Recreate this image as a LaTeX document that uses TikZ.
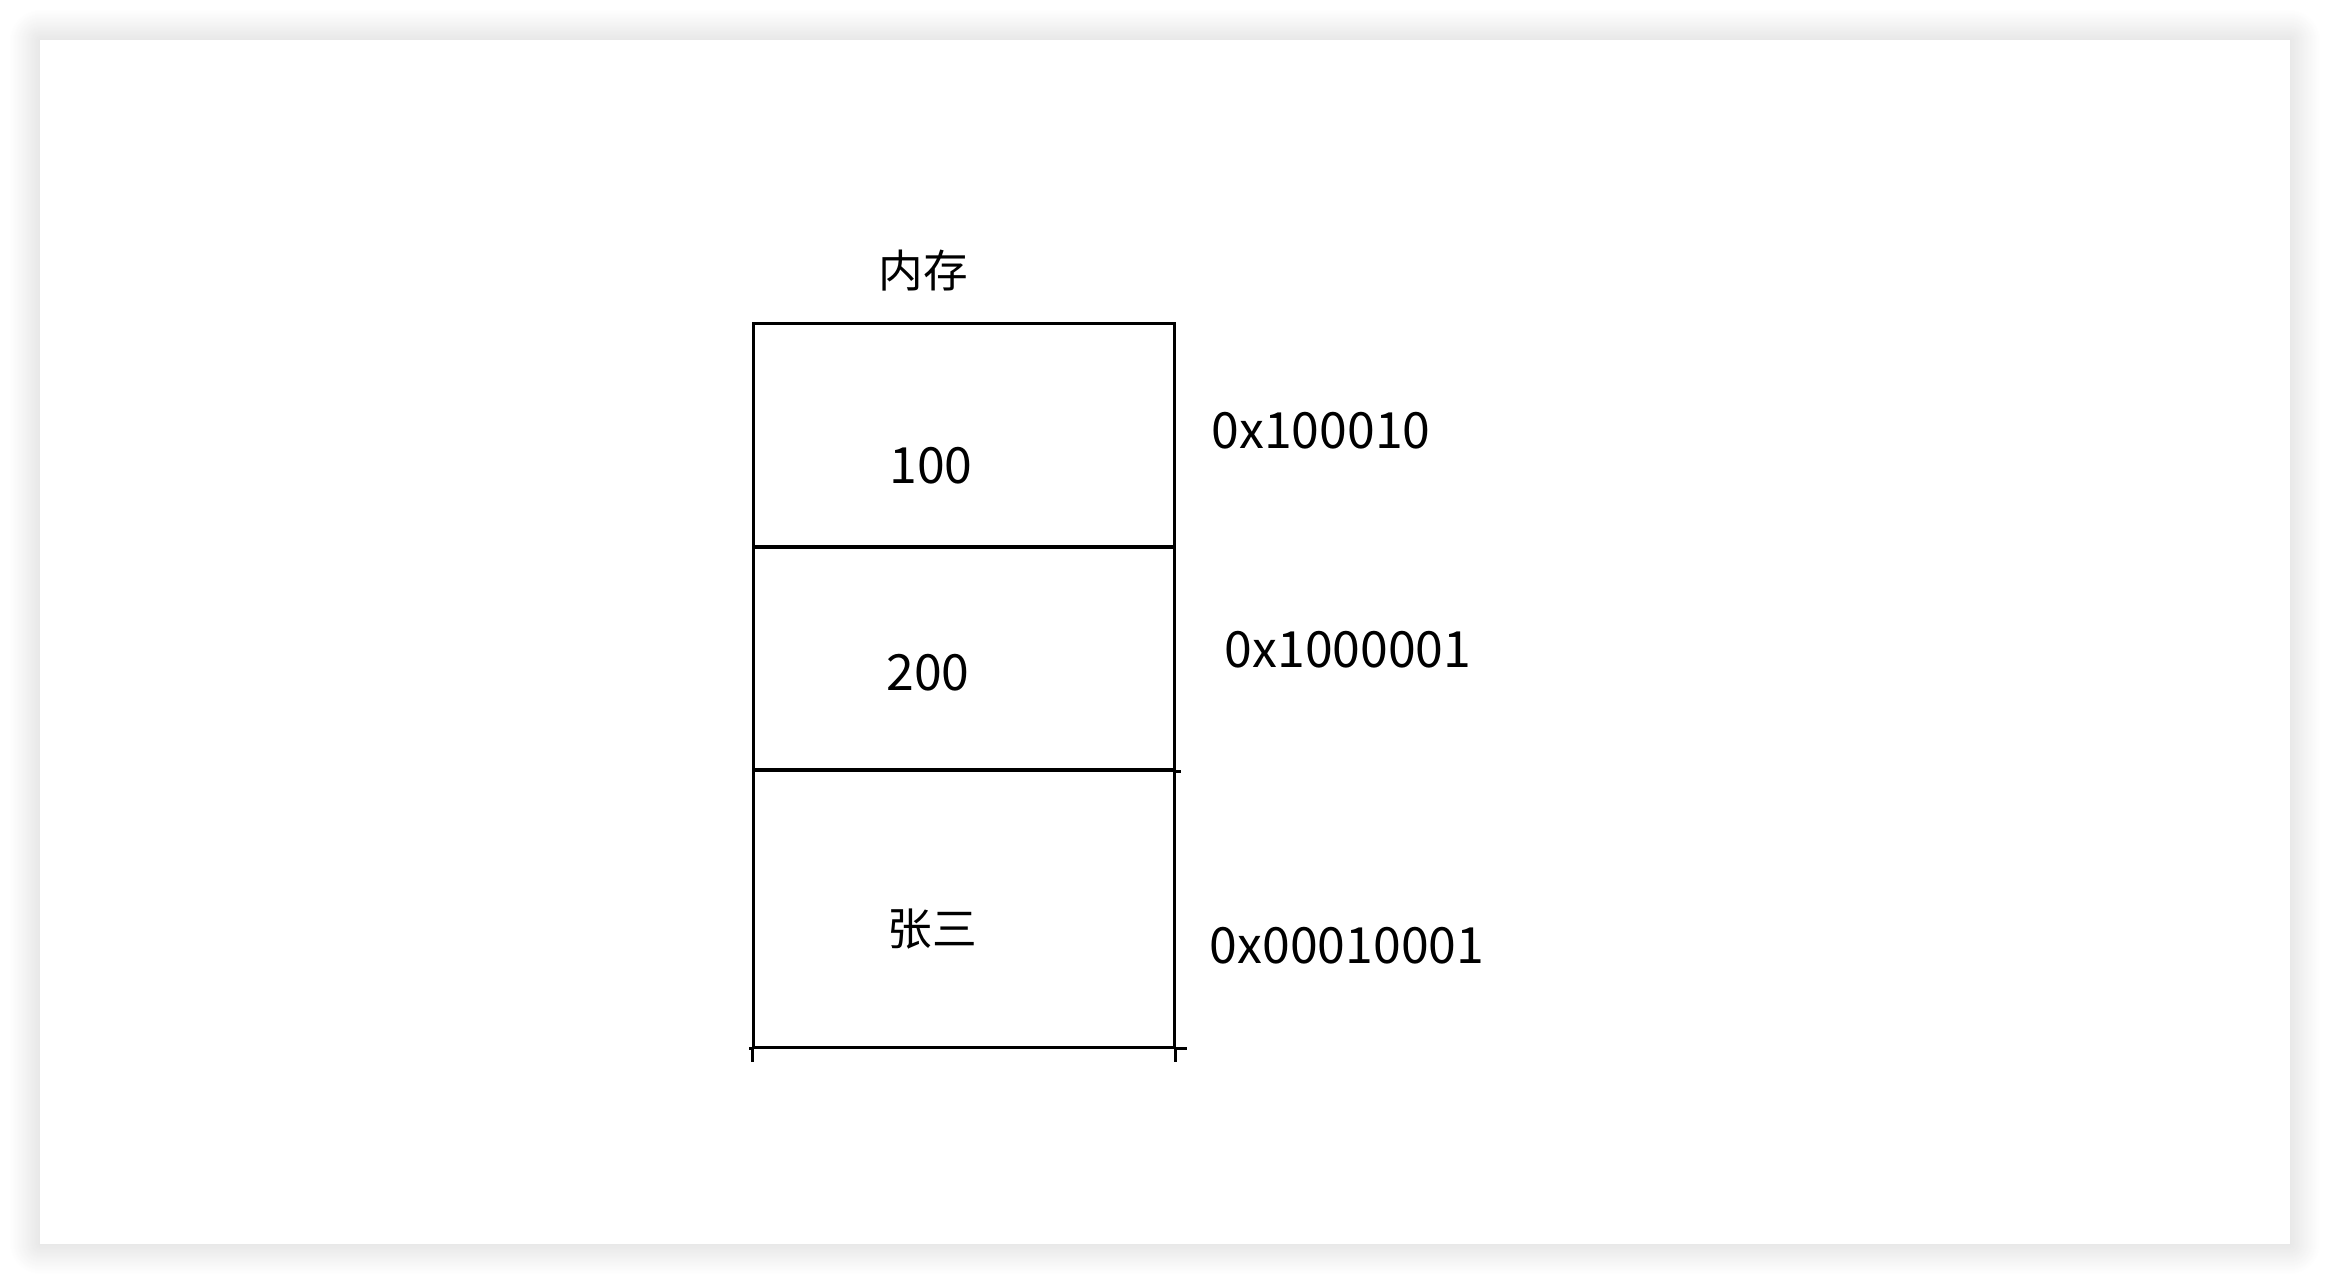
\documentclass[tikz,border=0pt]{standalone}
\usepackage{fontspec}
\setmainfont{Noto Sans CJK SC}
\definecolor{cardShadow}{RGB}{60,60,60}
\tikzset{
  cellbox/.style={draw=black, line width=0.03cm, minimum width=4.2cm, inner sep=0pt},
  hanzi/.style={font=\fontsize{12.7}{15}\selectfont, anchor=base},
  numtext/.style={font=\fontsize{14.2}{17}\selectfont, anchor=base},
}

\begin{document}
\begin{tikzpicture}[x=0.01cm, y=-0.01cm]
  \useasboundingbox (0,0) rectangle (2330,1284);
  % soft shadow round the card
  \foreach \d in {1,...,30}
    \fill[cardShadow, opacity=0.004, rounded corners=\d*0.01cm]
      ({40-\d},{40-\d}) rectangle ({2290+\d},{1244+\d});
  \fill[white] (40,40) rectangle (2290,1244);

  % memory cells
  \node[cellbox, minimum height=2.23cm] (cellA) at (964,435.5) {};
  \node[cellbox, minimum height=2.23cm] (cellB) at (964,658.5) {};
  \node[cellbox, minimum height=2.77cm] (cellC) at (964,908.5) {};
  \draw[line width=0.03cm] (cellB.south east) -- ++(5,0);
  \draw[line width=0.03cm] (cellC.south west) -- ++(-3,0);
  \draw[line width=0.03cm] (cellC.south east) -- ++(11,0);
  \draw[line width=0.03cm] (cellC.south west) -- ++(0,13);
  \draw[line width=0.03cm] (cellC.south east) -- ++(0,13);

  \node[hanzi] (title) at (923,287) {内存};
  \node[numtext] (valA) at (931,483) {100};
  \node[numtext] (valB) at (928,690) {200};
  \node[hanzi] (valC) at (932,945) {张三};

  % addresses
  \node[numtext] (addrA) at (1321,448) {0x100010};
  \node[numtext] (addrB) at (1348,667) {0x1000001};
  \node[numtext] (addrC) at (1347,963) {0x00010001};
\end{tikzpicture}
\end{document}
